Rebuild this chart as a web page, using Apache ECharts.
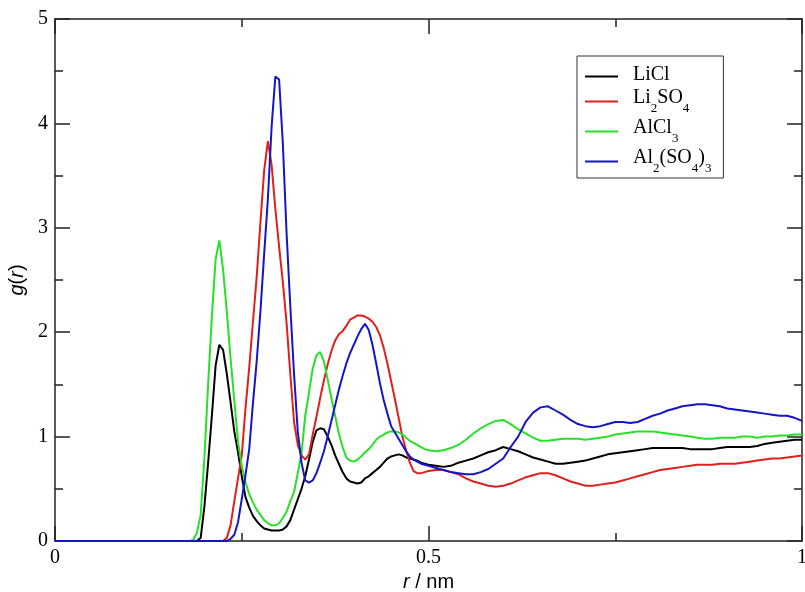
<!DOCTYPE html>
<html><head><meta charset="utf-8">
<script src="https://cdn.jsdelivr.net/npm/echarts@6/dist/echarts.min.js"></script>
<style>html,body{margin:0;padding:0;background:#fff}#c{width:805px;height:592px}</style>
</head><body><div id="c"></div>
<script>
// r / nm
const rValues = [0,
0.18,0.185,0.19,0.195,0.2,0.205,0.21,0.215,0.22,0.225,
0.23,0.235,0.24,0.245,0.25,0.255,0.26,0.265,0.27,0.275,
0.28,0.285,0.29,0.295,0.3,0.305,0.31,0.315,0.32,0.325,
0.33,0.335,0.34,0.345,0.35,0.355,0.36,0.365,0.37,0.375,
0.38,0.385,0.39,0.395,0.4,0.405,0.41,0.415,0.42,0.425,
0.43,0.435,0.44,0.445,0.45,0.455,0.46,0.465,0.47,0.475,
0.48,0.485,0.49,0.495,0.5,
0.51,0.52,0.53,0.54,0.55,0.56,0.57,0.58,0.59,0.6,
0.61,0.62,0.63,0.64,0.65,0.66,0.67,0.68,0.69,0.7,
0.71,0.72,0.73,0.74,0.75,0.76,0.77,0.78,0.79,0.8,
0.81,0.82,0.83,0.84,0.85,0.86,0.87,0.88,0.89,0.9,
0.91,0.92,0.93,0.94,0.95,0.96,0.97,0.98,0.99,1.0];

const gLiCl = [0,
0,0,0,0.03,0.33,0.75,1.2,1.68,1.88,1.83,
1.6,1.33,1.05,0.85,0.62,0.42,0.32,0.24,0.19,0.15,
0.12,0.11,0.1,0.1,0.1,0.11,0.14,0.2,0.3,0.4,
0.5,0.62,0.78,0.95,1.06,1.08,1.07,1.0,0.92,0.82,
0.74,0.66,0.6,0.57,0.56,0.55,0.56,0.6,0.62,0.65,
0.68,0.71,0.75,0.79,0.81,0.82,0.83,0.82,0.8,0.79,
0.78,0.77,0.75,0.74,0.73,
0.72,0.71,0.72,0.75,0.77,0.79,0.82,0.85,0.87,0.9,
0.88,0.86,0.83,0.8,0.78,0.76,0.74,0.74,0.75,0.76,
0.77,0.79,0.81,0.83,0.84,0.85,0.86,0.87,0.88,0.89,
0.89,0.89,0.89,0.89,0.88,0.88,0.88,0.88,0.89,0.9,
0.9,0.9,0.9,0.91,0.93,0.94,0.95,0.96,0.97,0.97];

const gLi2SO4 = [0,
0,0,0,0,0,0,0,0,0,0,
0.03,0.15,0.38,0.6,0.82,1.27,1.66,2.1,2.53,3.05,
3.55,3.83,3.6,3.18,2.82,2.48,2.09,1.6,1.14,0.92,
0.82,0.78,0.83,1.02,1.19,1.37,1.54,1.69,1.82,1.92,
1.98,2.01,2.06,2.12,2.14,2.16,2.16,2.15,2.13,2.1,
2.05,1.97,1.85,1.7,1.53,1.36,1.18,1.0,0.87,0.75,
0.67,0.65,0.65,0.66,0.67,
0.68,0.68,0.66,0.64,0.6,0.57,0.55,0.53,0.52,0.53,
0.55,0.58,0.61,0.63,0.65,0.65,0.63,0.6,0.57,0.55,
0.53,0.53,0.54,0.55,0.56,0.58,0.6,0.62,0.64,0.66,
0.68,0.69,0.7,0.71,0.72,0.73,0.73,0.73,0.74,0.74,
0.74,0.75,0.76,0.77,0.78,0.79,0.79,0.8,0.81,0.82];

const gAlCl3 = [0,
0,0.01,0.08,0.25,0.8,1.5,2.15,2.7,2.88,2.6,
2.2,1.75,1.35,0.95,0.72,0.56,0.45,0.37,0.3,0.25,
0.2,0.17,0.15,0.15,0.17,0.22,0.28,0.38,0.47,0.65,
0.84,1.2,1.42,1.65,1.78,1.81,1.72,1.55,1.37,1.2,
1.03,0.9,0.8,0.77,0.76,0.78,0.81,0.85,0.88,0.92,
0.97,1.0,1.02,1.04,1.05,1.05,1.04,1.02,0.99,0.96,
0.94,0.92,0.9,0.88,0.87,
0.86,0.87,0.89,0.92,0.97,1.03,1.08,1.12,1.15,1.16,
1.12,1.07,1.03,0.99,0.96,0.96,0.97,0.98,0.98,0.98,
0.97,0.98,0.99,1.0,1.02,1.03,1.04,1.05,1.05,1.05,
1.04,1.03,1.02,1.01,1.0,0.99,0.98,0.98,0.99,0.99,
0.99,1.0,1.0,0.99,1.0,1.0,1.01,1.01,1.02,1.02];

const gAl2SO43 = [0,
0,0,0,0,0,0,0,0,0,0,
0,0.02,0.06,0.18,0.4,0.63,0.88,1.32,1.72,2.2,
2.75,3.28,3.97,4.45,4.42,3.81,2.95,2.25,1.6,1.05,
0.75,0.58,0.56,0.58,0.65,0.75,0.86,1.0,1.15,1.3,
1.45,1.58,1.7,1.8,1.88,1.96,2.03,2.08,2.02,1.88,
1.7,1.51,1.35,1.22,1.1,1.04,0.98,0.92,0.86,0.81,
0.78,0.76,0.74,0.73,0.72,
0.7,0.68,0.66,0.65,0.64,0.64,0.66,0.69,0.74,0.79,
0.9,1.0,1.14,1.23,1.28,1.29,1.25,1.21,1.16,1.12,
1.1,1.09,1.1,1.12,1.14,1.14,1.13,1.14,1.17,1.2,
1.22,1.25,1.27,1.29,1.3,1.31,1.31,1.3,1.29,1.27,
1.26,1.25,1.24,1.23,1.22,1.21,1.2,1.2,1.18,1.15];

const seriesNames = ['LiCl', 'Li2SO4', 'AlCl3', 'Al2(SO4)3'];
const legendRich = {
  'LiCl': '{f|LiCl}',
  'Li2SO4': '{f|Li}{s|2}{n|SO}{s|4}',
  'AlCl3': '{f|AlCl}{s|3}',
  'Al2(SO4)3': '{f|Al}{s|2}{n|(SO}{s|4}{n|)}{s|3}'
};
const seriesColors = ['#000000', '#e0201c', '#27e027', '#1515c8'];
const xTickInterval = 0.5;
const yTickInterval = 1;

const seriesValues = [gLiCl, gLi2SO4, gAlCl3, gAl2SO43];

const serif = '"Liberation Serif", "Times New Roman", serif';
const sans = '"Liberation Sans", Arial, sans-serif';
const axisColor = '#222';

function axisCommon(show) {
  return {
    axisLine: {show: true, onZero: false, lineStyle: {color: axisColor, width: 1.5}},
    axisTick: {show: true, inside: true, length: 15, lineStyle: {color: axisColor, width: 1.5}},
    minorTick: {show: true, splitNumber: 2, length: 8, lineStyle: {color: axisColor, width: 1.5}},
    splitLine: {show: false},
    minorSplitLine: {show: false},
    axisLabel: {show: show, margin: 7, fontFamily: serif, fontSize: 20, color: '#000',
                showMinLabel: true, showMaxLabel: true, hideOverlap: false}
  };
}

const chart = echarts.init(document.getElementById('c'), null, {renderer: 'canvas'});
chart.setOption({
  animation: false,
  backgroundColor: '#fff',
  grid: {left: 55, right: 3, top: 19, bottom: 51, containLabel: false, outerBoundsMode: 'none'},
  legend: {
    orient: 'vertical', left: 577, top: 56,
    padding: [9, 12, 3, 8], itemGap: 3, itemWidth: 33, itemHeight: 2, icon: 'rect',
    borderColor: '#333', borderWidth: 1, backgroundColor: '#fff', borderRadius: 0,
    data: seriesNames,
    formatter: n => legendRich[n],
    textStyle: {
      color: '#000',
      rich: {
        f: {fontFamily: serif, fontSize: 20, color: '#000', lineHeight: 23, verticalAlign: 'top', padding: [0, 0, 0, 10]},
        n: {fontFamily: serif, fontSize: 20, color: '#000', lineHeight: 23, verticalAlign: 'top'},
        s: {fontFamily: serif, fontSize: 13, color: '#000', padding: [14, 0, 0, 0], verticalAlign: 'top'}
      }
    }
  },
  xAxis: [
    Object.assign({type: 'value', min: 0, max: 1, interval: xTickInterval, position: 'bottom',
      name: '{i|r} / nm', nameLocation: 'middle', nameGap: 27,
      nameTextStyle: {fontFamily: sans, fontSize: 20, color: '#000',
        rich: {i: {fontFamily: sans, fontSize: 20, fontStyle: 'italic', color: '#000'}}}
    }, axisCommon(true)),
    Object.assign({type: 'value', min: 0, max: 1, interval: xTickInterval, position: 'top'}, axisCommon(false))
  ],
  yAxis: [
    Object.assign({type: 'value', min: 0, max: 5, interval: yTickInterval, position: 'left',
      name: '{i|g}({i|r})', nameLocation: 'middle', nameGap: 21,
      nameTextStyle: {fontFamily: sans, fontSize: 20, color: '#000',
        rich: {i: {fontFamily: sans, fontSize: 20, fontStyle: 'italic', color: '#000'}}}
    }, axisCommon(true)),
    Object.assign({type: 'value', min: 0, max: 5, interval: yTickInterval, position: 'right'}, axisCommon(false))
  ],
  series: seriesNames.map((name, k) => ({
    type: 'line', name: name, xAxisIndex: 0, yAxisIndex: 0,
    data: rValues.map((r, i) => [r, seriesValues[k][i]]),
    showSymbol: false, symbol: 'none', smooth: false,
    color: seriesColors[k],
    itemStyle: {color: seriesColors[k]},
    lineStyle: {color: seriesColors[k], width: 2},
    emphasis: {disabled: true}
  }))
});
</script>
</body></html>
